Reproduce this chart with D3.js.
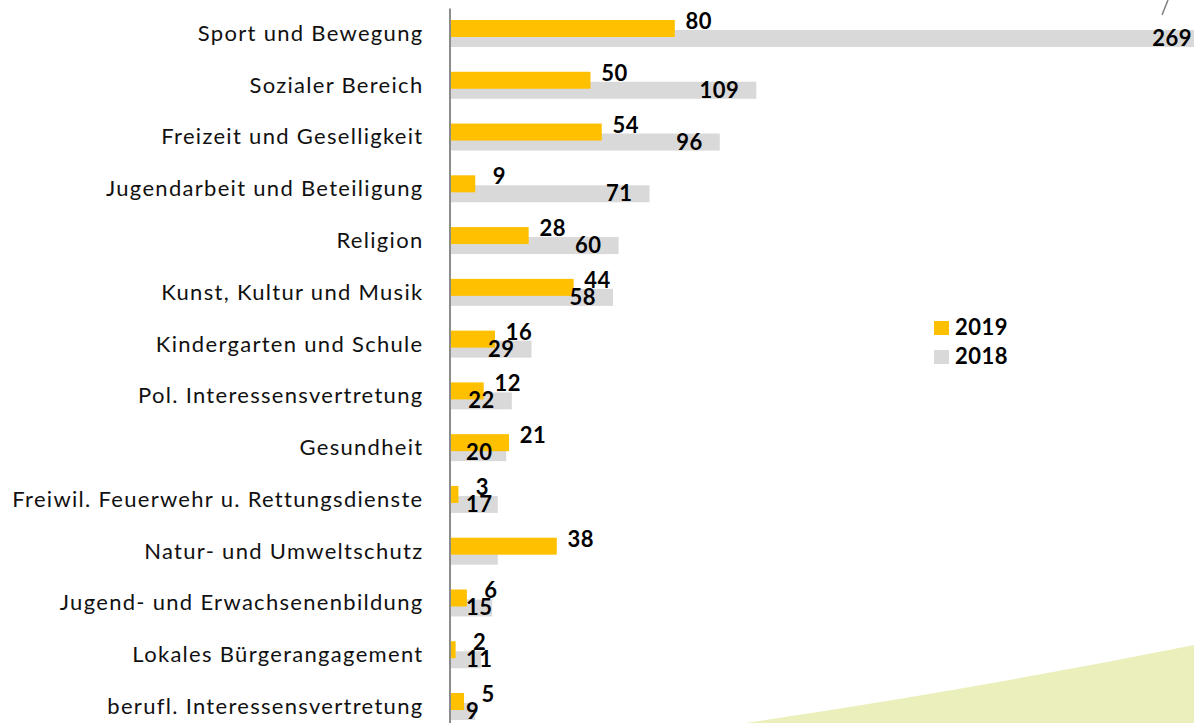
<!DOCTYPE html>
<html>
<head>
<meta charset="utf-8">
<script src="https://cdn.jsdelivr.net/npm/d3@7"></script>
<style>
  html, body { margin: 0; padding: 0; background: #fff; }
  svg { display: block; }
</style>
</head>
<body>
<div id="chart"></div>
<script>
// Werte
const categories = [
  "Sport und Bewegung",
  "Sozialer Bereich",
  "Freizeit und Geselligkeit",
  "Jugendarbeit und Beteiligung",
  "Religion",
  "Kunst, Kultur und Musik",
  "Kindergarten und Schule",
  "Pol. Interessensvertretung",
  "Gesundheit",
  "Freiwil. Feuerwehr u. Rettungsdienste",
  "Natur- und Umweltschutz",
  "Jugend- und Erwachsenenbildung",
  "Lokales Bürgerangagement",
  "berufl. Interessensvertretung"
];
const values2019 = [80, 50, 54, 9, 28, 44, 16, 12, 21, 3, 38, 6, 2, 5];
const values2018 = [269, 109, 96, 71, 60, 58, 29, 22, 20, 17, 17, 15, 11, 9];
// in der Vorlage ohne Datenbeschriftung
const unlabeled2018 = ["Natur- und Umweltschutz"];
const seriesNames = ["2019", "2018"];

const W = 1194, H = 723;
const colors = { "2019": "#FFC000", "2018": "#D9D9D9" };
const font = "Lato, 'DejaVu Sans', sans-serif";

const svg = d3.select("#chart").append("svg")
  .attr("width", W).attr("height", H);

// dekorative Fläche unten rechts
svg.append("path")
  .attr("d", `M${W - 449},${H} Q${W - 224},${H - 33} ${W},${H - 78} L${W},${H} Z`)
  .attr("fill", "#EBEFBC");

const x = d3.scaleLinear().domain([0, 100]).range([450, 731]);
const y = d3.scaleBand().domain(categories).range([8, 8 + categories.length * 51.77]);

const barH = 17;
const offY = { "2019": 12, "2018": 22 };
const barEnd = v => Math.min(x(v), W);

const rows = categories.map((c, i) => ({ cat: c, v19: values2019[i], v18: values2018[i] }));

// 2018 zuerst (liegt hinten), dann 2019
svg.append("g").selectAll("rect").data(rows).join("rect")
  .attr("x", x(0))
  .attr("y", d => y(d.cat) + offY["2018"])
  .attr("width", d => barEnd(d.v18) - x(0))
  .attr("height", barH)
  .attr("fill", colors["2018"]);

svg.append("g").selectAll("rect").data(rows).join("rect")
  .attr("x", x(0))
  .attr("y", d => y(d.cat) + offY["2019"])
  .attr("width", d => barEnd(d.v19) - x(0))
  .attr("height", barH)
  .attr("fill", colors["2019"]);

// Achse mit Kategorien
const axis = svg.append("g")
  .attr("transform", `translate(${x(0) - 0.5},0)`)
  .call(d3.axisLeft(y).tickSize(0).tickPadding(26).tickSizeOuter(0));
axis.select(".domain").attr("stroke", "#8C8C8C").attr("stroke-width", 2);
axis.selectAll(".tick text")
  .attr("font-family", font)
  .attr("font-size", 22)
  .attr("letter-spacing", 1.3)
  .attr("fill", "#111");

// Beschriftungen 2019
svg.append("g").selectAll("text").data(rows).join("text")
  .attr("x", d => barEnd(d.v19) + 24)
  .attr("y", d => y(d.cat) + offY["2019"] + 9)
  .attr("text-anchor", "middle")
  .attr("font-family", font)
  .attr("font-weight", "bold")
  .attr("font-size", 22)
  .attr("letter-spacing", 0.5)
  .attr("fill", "#000")
  .text(d => d.v19);

// Beschriftungen 2018
svg.append("g").selectAll("text")
  .data(rows.filter(d => !unlabeled2018.includes(d.cat))).join("text")
  .attr("y", d => y(d.cat) + offY["2018"] + 16)
  .attr("font-family", font)
  .attr("font-weight", "bold")
  .attr("font-size", 22)
  .attr("letter-spacing", 0.5)
  .attr("fill", "#000")
  .text(d => d.v18)
  .attr("x", function (d) {
    const w = this.getComputedTextLength();
    const clipped = x(d.v18) > W;
    const end = clipped ? W - 2 : barEnd(d.v18) - 17;
    return Math.max(x(0) + 16, end - w);
  });

// Bruchzeichen am gekappten Balken
const broken = rows.filter(d => x(d.v18) > W);
svg.append("g").selectAll("line").data(broken).join("line")
  .attr("x1", W - 32).attr("y1", d => y(d.cat) + 7)
  .attr("x2", W - 26).attr("y2", d => y(d.cat) - 8)
  .attr("stroke", "#7F7F7F").attr("stroke-width", 1.5);

// Legende
const legend = svg.append("g").attr("transform", "translate(934,321)");
const li = legend.selectAll("g").data(seriesNames).join("g")
  .attr("transform", (d, i) => `translate(0,${i * 29})`);
li.append("rect").attr("width", 15).attr("height", 14).attr("fill", d => colors[d]);
li.append("text")
  .attr("x", 21).attr("y", 14)
  .attr("font-family", font)
  .attr("font-weight", "bold")
  .attr("font-size", 22)
  .attr("letter-spacing", 0.5)
  .attr("fill", "#000")
  .text(d => d);
</script>
</body>
</html>
